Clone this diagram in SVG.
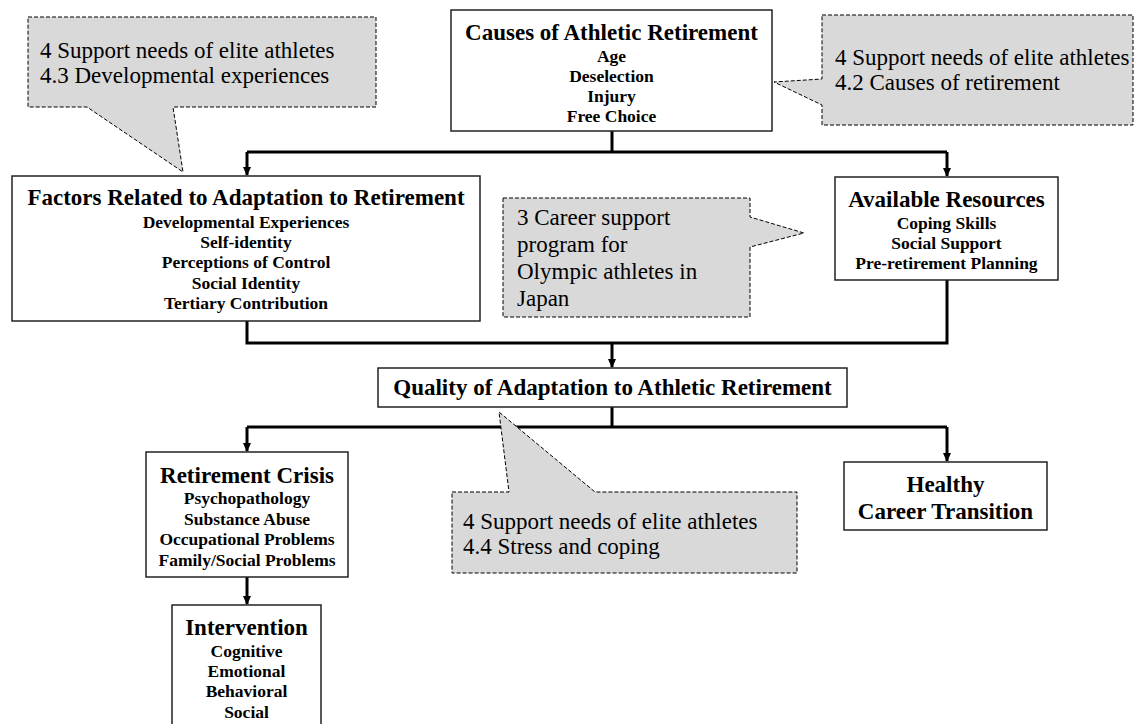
<svg xmlns="http://www.w3.org/2000/svg" width="1135" height="724" viewBox="0 0 1135 724">
  <style>
    .box { fill: #ffffff; stroke: #222222; stroke-width: 1.5; }
    .wire { fill: none; stroke: #000000; stroke-width: 3; }
    .note { fill: #d9d9d9; stroke: #000000; stroke-width: 1; stroke-dasharray: 4 2; }
    .title { font-family: "Liberation Serif", "Times New Roman", serif; font-weight: bold; font-size: 23px; text-anchor: middle; fill: #000; }
    .item { font-family: "Liberation Serif", "Times New Roman", serif; font-weight: bold; font-size: 17.5px; text-anchor: middle; fill: #000; }
    .ntext { font-family: "Liberation Serif", "Times New Roman", serif; font-size: 23px; fill: #000; }
  </style>
  <defs>
    <marker id="arrow" markerWidth="10" markerHeight="10" refX="8" refY="5" orient="auto" markerUnits="userSpaceOnUse">
      <path d="M0,1 L9,5 L0,9 Z" fill="#000"/>
    </marker>
  </defs>

  <rect width="1135" height="724" fill="#ffffff"/>

  <!-- connectors -->
  <g id="connectors">
    <path class="wire" d="M612,131 V152"/>
    <path class="wire" d="M247,152 H947"/>
    <path class="wire" d="M247,152 V175" marker-end="url(#arrow)"/>
    <path class="wire" d="M947,152 V176" marker-end="url(#arrow)"/>
    <path class="wire" d="M247,321 V343 H947 V280"/>
    <path class="wire" d="M612,343 V367" marker-end="url(#arrow)"/>
    <path class="wire" d="M612,407 V427"/>
    <path class="wire" d="M247,427 H947"/>
    <path class="wire" d="M247,427 V451" marker-end="url(#arrow)"/>
    <path class="wire" d="M947,427 V461" marker-end="url(#arrow)"/>
    <path class="wire" d="M247,577 V604" marker-end="url(#arrow)"/>
  </g>

  <!-- nodes -->
  <g id="causes">
    <rect class="box" x="451" y="10" width="321" height="121"/>
    <text class="title" x="611.5" y="40">Causes of Athletic Retirement</text>
    <text class="item" x="611.5" y="62">Age</text>
    <text class="item" x="611.5" y="82">Deselection</text>
    <text class="item" x="611.5" y="102">Injury</text>
    <text class="item" x="611.5" y="122">Free Choice</text>
  </g>

  <g id="factors">
    <rect class="box" x="12" y="176" width="468" height="145"/>
    <text class="title" x="246" y="205">Factors Related to Adaptation to Retirement</text>
    <text class="item" x="246" y="228">Developmental Experiences</text>
    <text class="item" x="246" y="248">Self-identity</text>
    <text class="item" x="246" y="268">Perceptions of Control</text>
    <text class="item" x="246" y="289">Social Identity</text>
    <text class="item" x="246" y="309">Tertiary Contribution</text>
  </g>

  <g id="resources">
    <rect class="box" x="835" y="177" width="223" height="103"/>
    <text class="title" x="946.5" y="207">Available Resources</text>
    <text class="item" x="946.5" y="229">Coping Skills</text>
    <text class="item" x="946.5" y="249">Social Support</text>
    <text class="item" x="946.5" y="269">Pre-retirement Planning</text>
  </g>

  <g id="quality">
    <rect class="box" x="378" y="368" width="469" height="39"/>
    <text class="title" x="612.5" y="395">Quality of Adaptation to Athletic Retirement</text>
  </g>

  <g id="crisis">
    <rect class="box" x="146" y="452" width="202" height="125"/>
    <text class="title" x="247" y="483">Retirement Crisis</text>
    <text class="item" x="247" y="504">Psychopathology</text>
    <text class="item" x="247" y="525">Substance Abuse</text>
    <text class="item" x="247" y="545">Occupational Problems</text>
    <text class="item" x="247" y="566">Family/Social Problems</text>
  </g>

  <g id="intervention">
    <rect class="box" x="172" y="605" width="149" height="130"/>
    <text class="title" x="246.5" y="635">Intervention</text>
    <text class="item" x="246.5" y="657">Cognitive</text>
    <text class="item" x="246.5" y="677">Emotional</text>
    <text class="item" x="246.5" y="697">Behavioral</text>
    <text class="item" x="246.5" y="718">Social</text>
  </g>

  <g id="healthy">
    <rect class="box" x="844" y="462" width="203" height="68"/>
    <text class="title" x="945.5" y="492">Healthy</text>
    <text class="title" x="945.5" y="519">Career Transition</text>
  </g>

  <!-- callout notes, drawn over the connectors -->
  <g id="note-developmental">
    <path class="note" d="M28,17 H376 V107 H173 L183,172 L87,107 H28 Z"/>
    <text class="ntext" x="40" y="58">4 Support needs of elite athletes</text>
    <text class="ntext" x="40" y="83">4.3 Developmental experiences</text>
  </g>

  <g id="note-causes">
    <path class="note" d="M822,15 H1133 V125 H822 V105 L774,82 L822,79 Z"/>
    <text class="ntext" x="835" y="65">4 Support needs of elite athletes</text>
    <text class="ntext" x="835" y="90">4.2 Causes of retirement</text>
  </g>

  <g id="note-program">
    <path class="note" d="M503,198 H750 V217 L804,233 L750,247 V317 H503 Z"/>
    <text class="ntext" x="517" y="225">3 Career support</text>
    <text class="ntext" x="517" y="252">program for</text>
    <text class="ntext" x="517" y="279">Olympic athletes in</text>
    <text class="ntext" x="517" y="306">Japan</text>
  </g>

  <g id="note-stress">
    <path class="note" d="M452,492 H509 L499,412 L595,492 H797 V573 H452 Z"/>
    <text class="ntext" x="463" y="529">4 Support needs of elite athletes</text>
    <text class="ntext" x="463" y="554">4.4 Stress and coping</text>
  </g>
</svg>
